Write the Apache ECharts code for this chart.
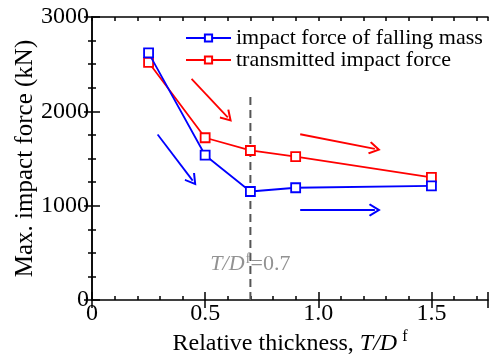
<!DOCTYPE html>
<html>
<head>
<meta charset="utf-8">
<script src="https://cdn.jsdelivr.net/npm/echarts@6/dist/echarts.min.js"></script>
<style>
  html, body { margin: 0; padding: 0; background: #fff; }
  #chart { width: 490px; height: 359px; }
</style>
</head>
<body>
<div id="chart"></div>
<script>
// relative thickness T/Df
const thickness = [0.25, 0.5, 0.7, 0.9, 1.5]
// max impact force (kN)
const fallingMass = [2620, 1535, 1150, 1190, 1210]
const transmitted = [2520, 1720, 1585, 1520, 1300]
const xLabels = ['0', '0.5', '1.0', '1.5']
const yLabels = ['0', '1000', '2000', '3000']
// trend arrows [start, end]
const redArrows = [[[0.44, 2345], [0.60, 1935]], [[0.92, 1757], [1.25, 1603]]]
const blueArrows = [[[0.29, 1755], [0.445, 1265]], [[0.92, 955], [1.25, 955]]]
const critical = 0.7
const criticalTop = 2170

const font = 'Liberation Serif'
const chevron = 'path://M0,10 L6,0 L12,10 L10.6,11.2 L6,3.6 L1.4,11.2 Z'

const pts = vals => thickness.map((x, i) => [x, vals[i]])
const arrowLines = list => list.map(a => [
    { coord: a[0], symbol: 'none' },
    { coord: a[1], symbol: chevron, symbolSize: [13, 12] }
])

const xBase = {
    type: 'value', min: 0, max: 1.75,
    axisLine: { show: false },
    axisLabel: { show: false },
    splitLine: { show: false },
    axisTick: { inside: true, length: 4, lineStyle: { color: '#000', width: 1.5 } }
}
const yBase = {
    type: 'value', min: 0, max: 3000, interval: 1000,
    axisLine: { show: true, lineStyle: { color: '#000', width: 1.5 } },
    splitLine: { show: false },
    axisTick: { inside: true, length: 8, lineStyle: { color: '#000', width: 1.5 } },
    minorTick: { show: true, splitNumber: 4, length: 4, lineStyle: { color: '#000', width: 1.5 } }
}

function setChart() {
    const myChart = echarts.init(document.getElementById('chart'))
    let option = {
        animation: false,
        textStyle: { fontFamily: font },
        grid: { left: 92, right: 2, top: 17, bottom: 59, containLabel: false, outerBoundsMode: 'none' },
        legend: {
            data: ['impact force of falling mass', 'transmitted impact force'],
            orient: 'vertical',
            left: 185, top: 27, padding: 0,
            itemWidth: 45, itemHeight: 9, itemGap: 0,
            textStyle: { fontFamily: font, fontSize: 22, color: '#000', lineHeight: 21 }
        },
        xAxis: [
            {
                type: 'value', min: 0, max: 1.75, interval: 0.5, position: 'bottom',
                axisLine: { show: true, onZero: false, lineStyle: { color: '#000', width: 1.5 } },
                splitLine: { show: false },
                axisTick: { inside: true, length: 8, lineStyle: { color: '#000', width: 1.5 } },
                axisLabel: {
                    fontFamily: font, fontSize: 24, color: '#000', margin: 2,
                    formatter: v => {
                        const k = Math.round(v * 2)
                        return Math.abs(v * 2 - k) < 1e-6 ? xLabels[k] : ''
                    }
                },
                name: 'Relative thickness, {i|T/D}{s|f}',
                nameLocation: 'middle', nameGap: 29, nameMoveOverlap: false,
                nameTextStyle: {
                    fontFamily: font, fontSize: 24, color: '#000',
                    rich: {
                        i: { fontFamily: font, fontSize: 24, fontStyle: 'italic', color: '#000' },
                        s: { fontFamily: font, fontSize: 16, color: '#000', padding: [0, 0, 13, 5] }
                    }
                }
            },
            Object.assign({}, xBase, { position: 'bottom', interval: 0.1 }),
            Object.assign({}, xBase, { position: 'top', interval: 0.1,
                axisLine: { show: true, onZero: false, lineStyle: { color: '#000', width: 1.5 } } }),
            Object.assign({}, xBase, { position: 'top', interval: 0.5,
                axisTick: { inside: true, length: 8, lineStyle: { color: '#000', width: 1.5 } } })
        ],
        yAxis: [
            Object.assign({}, yBase, {
                position: 'left',
                axisLabel: {
                    fontFamily: font, fontSize: 24, color: '#000', margin: 3,
                    formatter: v => yLabels[Math.round(v / 1000)]
                },
                name: 'Max. impact force (kN)',
                nameLocation: 'middle', nameGap: 54, nameMoveOverlap: false,
                nameTextStyle: { fontFamily: font, fontSize: 25, color: '#000' }
            }),
            Object.assign({}, yBase, { position: 'right', axisLabel: { show: false } })
        ],
        series: [
            {
                name: 'transmitted impact force',
                type: 'line', z: 2,
                data: pts(transmitted),
                symbol: 'rect', symbolSize: 9,
                itemStyle: { color: '#fff', borderColor: '#ff0000', borderWidth: 1.8 },
                lineStyle: { color: '#ff0000', width: 1.8 },
                markLine: {
                    silent: true, label: { show: false },
                    lineStyle: { color: '#ff0000', width: 1.8, type: 'solid' },
                    itemStyle: { color: '#ff0000' },
                    data: arrowLines(redArrows)
                }
            },
            {
                name: 'impact force of falling mass',
                type: 'line', z: 3,
                data: pts(fallingMass),
                symbol: 'rect', symbolSize: 9,
                itemStyle: { color: '#fff', borderColor: '#0000ff', borderWidth: 1.8 },
                lineStyle: { color: '#0000ff', width: 1.8 },
                markLine: {
                    silent: true, label: { show: false },
                    lineStyle: { color: '#0000ff', width: 1.8, type: 'solid' },
                    itemStyle: { color: '#0000ff' },
                    data: arrowLines(blueArrows)
                }
            },
            {
                name: 'critical',
                type: 'line', z: 1, silent: true,
                data: [[critical, 0], [critical, criticalTop]],
                showSymbol: false,
                lineStyle: { color: '#555', width: 2, type: [8, 5] }
            },
            {
                name: 'criticalLabel',
                type: 'scatter', silent: true,
                data: [[critical, 380]],
                symbolSize: 0,
                label: {
                    show: true, position: 'inside',
                    formatter: '{i|T/D}{s|f}{n|=0.7}',
                    rich: {
                        i: { fontFamily: font, fontSize: 22, fontStyle: 'italic', color: '#777' },
                        s: { fontFamily: font, fontSize: 15, color: '#777', padding: [0, 0, 10, 1] },
                        n: { fontFamily: font, fontSize: 22, color: '#777' }
                    }
                }
            }
        ]
    }
    option && myChart.setOption(option)
}

if (document.fonts && document.fonts.load) {
    Promise.all([
        document.fonts.load('22px "Liberation Serif"'),
        document.fonts.load('italic 22px "Liberation Serif"')
    ]).then(setChart, setChart)
} else {
    setChart()
}
</script>
</body>
</html>
